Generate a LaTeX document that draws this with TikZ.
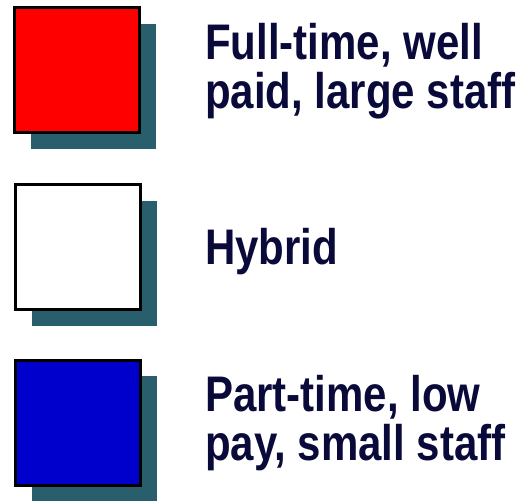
\documentclass[tikz,border=0pt]{standalone}
\usepackage{fontspec}
\setmainfont{Liberation Sans}
\usetikzlibrary{positioning, shadows}
\definecolor{shadowcol}{RGB}{41,94,108}
\definecolor{navytext}{RGB}{10,10,58}
\definecolor{swatchblue}{RGB}{0,0,204}
\tikzstyle{swatch} = [rectangle, minimum size=125pt, inner sep=0pt, line width=3pt, draw=black, drop shadow={shadow xshift=16pt, shadow yshift=-16pt, fill=shadowcol, opacity=1}]
\tikzstyle{legendtext} = [anchor=base west, inner sep=0pt, align=left, text=navytext, font=\fontsize{50}{49}\selectfont\bfseries, xscale=0.84, transform shape]

\begin{document}
\begin{tikzpicture}[x=1pt, y=1pt]
		\useasboundingbox (0,0) rectangle (523,503);
		%三个图例方块
		\node (fulltime) [swatch, fill=red] at (77,432.5) {};
		\node (hybrid) [swatch, fill=white] at (78,255.5) {};
		\node (parttime) [swatch, fill=swatchblue] at (78,80) {};
		
		%图例文字
		\node (fulltxt) [legendtext] at (205,394) {Full-time, well\\paid, large staff};
		\node (hybtxt) [legendtext] at (205,238) {Hybrid};
		\node (parttxt) [legendtext] at (205,42) {Part-time, low\\pay, small staff};
	\end{tikzpicture}
\end{document}
